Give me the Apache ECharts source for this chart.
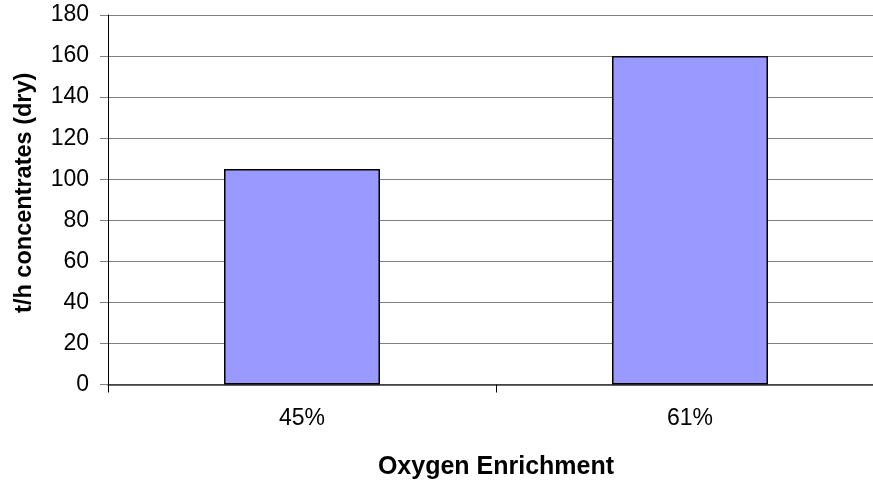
<!DOCTYPE html>
<html>
<head>
<meta charset="utf-8">
<script src="https://cdn.jsdelivr.net/npm/echarts@6/dist/echarts.min.js"></script>
<style>
  html, body { margin: 0; padding: 0; background: #fff; overflow: hidden; }
  #chart { width: 873px; height: 482px; }
</style>
</head>
<body>
<div id="chart"></div>
<script>
// Throughput of dry concentrates at two oxygen enrichment levels
const categories = ['45%', '61%'];
const throughput = [105, 160];
const yTicks = { min: 0, max: 180, step: 20 };

const font = 'Liberation Sans, Arial, sans-serif';
const chart = echarts.init(document.getElementById('chart'), null, { renderer: 'canvas' });

chart.setOption({
  animation: false,
  backgroundColor: '#ffffff',
  // plot area runs slightly past the right edge of the canvas
  grid: {
    left: 108, width: 776, top: 15, bottom: 97.5,
    containLabel: false, outerBoundsMode: 'none'
  },
  xAxis: {
    type: 'category',
    data: categories,
    boundaryGap: true,
    name: 'Oxygen Enrichment',
    nameLocation: 'middle',
    nameGap: 70,
    nameTextStyle: { fontFamily: font, fontSize: 25, fontWeight: 'bold', color: '#000' },
    axisLine: { show: true, lineStyle: { color: '#333', width: 1.5 } },
    axisTick: { show: true, alignWithLabel: false, length: 8, lineStyle: { color: '#000' } },
    axisLabel: { fontFamily: font, fontSize: 23, color: '#000', margin: 23 },
    splitLine: { show: false }
  },
  yAxis: {
    type: 'value',
    min: yTicks.min,
    max: yTicks.max,
    interval: yTicks.step,
    name: 't/h concentrates (dry)',
    nameLocation: 'middle',
    nameGap: 71,
    nameRotate: 90,
    nameTextStyle: {
      fontFamily: font, fontSize: 23.5, fontWeight: 'bold', color: '#000',
      padding: [0, 0, 0, 14]
    },
    axisLine: { show: true, lineStyle: { color: '#000', width: 1 } },
    axisTick: { show: true, length: 8, lineStyle: { color: '#808080' } },
    axisLabel: { fontFamily: font, fontSize: 23, color: '#000', margin: 19 },
    splitLine: { show: true, lineStyle: { color: '#808080', width: 1 } }
  },
  series: [{
    type: 'bar',
    data: throughput,
    barWidth: '40.2%',
    itemStyle: { color: '#9999ff', borderColor: '#000', borderWidth: 1.5 }
  }]
});
</script>
</body>
</html>
